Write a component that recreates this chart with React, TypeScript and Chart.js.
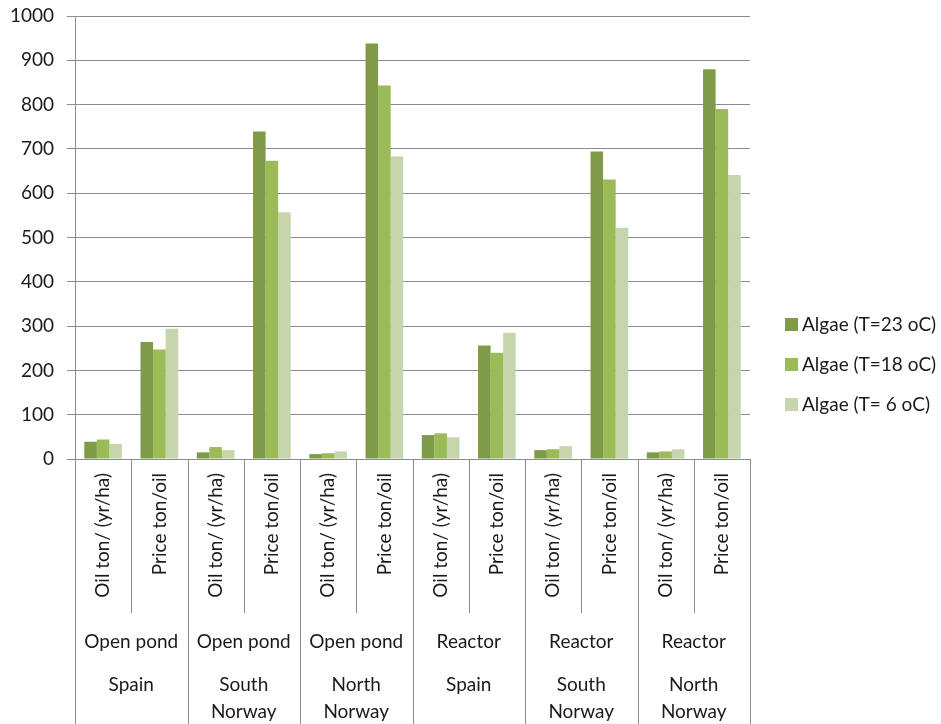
import React, { useEffect, useRef } from "react";
import { Chart, registerables } from "chart.js";

Chart.register(...registerables);

// Category structure: two metrics per cultivation system / region
const metrics = ["Oil ton/ (yr/ha)", "Price ton/oil"];
const systems = ["Open pond", "Open pond", "Open pond", "Reactor", "Reactor", "Reactor"];
const regions = [["Spain"], ["South", "Norway"], ["North", "Norway"], ["Spain"], ["South", "Norway"], ["North", "Norway"]];

const categories = systems.flatMap((s, g) => metrics.map((m) => `${s} ${regions[g].join(" ")} ${m}`));

// Series values per category
const seriesNames = ["Algae (T=23 oC)", "Algae (T=18 oC)", "Algae (T= 6 oC)"];
const algae23 = [39, 264, 15, 739, 11, 938, 54, 256, 20, 694, 15, 880];
const algae18 = [44, 247, 27, 673, 13, 843, 58, 240, 22, 631, 17, 790];
const algae6 = [34, 294, 20, 557, 17, 683, 49, 285, 29, 522, 22, 641];

const yTicks = [0, 100, 200, 300, 400, 500, 600, 700, 800, 900, 1000];

const colors = ["#7F9A48", "#9BBB59", "#C6D6AC"];
const FONT = "Lato, 'Open Sans', sans-serif";
const TEXT = "#1a1a1a";
const LINE = "#8c8c8c";

const groupedAxisPlugin = {
  id: "groupedAxis",
  afterDraw(chart: any) {
    const { ctx, chartArea } = chart;
    const x = chart.scales.x;
    const n = categories.length;
    const w = (chartArea.right - chartArea.left) / n;
    const base = chartArea.bottom;
    const bottom = chart.height;

    ctx.save();
    // separators under the axis
    ctx.strokeStyle = LINE;
    ctx.lineWidth = 1;
    for (let i = 0; i <= n; i++) {
      const px = Math.round(chartArea.left + i * w) + 0.5;
      const end = i % 2 === 1 ? base + 154 : bottom;
      ctx.beginPath();
      ctx.moveTo(px, base);
      ctx.lineTo(px, end);
      ctx.stroke();
    }

    ctx.fillStyle = TEXT;
    ctx.font = `19px ${FONT}`;
    // rotated metric labels
    for (let i = 0; i < n; i++) {
      const cx = x.getPixelForValue(i);
      ctx.save();
      ctx.translate(cx, base + 14);
      ctx.rotate(-Math.PI / 2);
      ctx.textAlign = "right";
      ctx.textBaseline = "middle";
      ctx.fillText(metrics[i % 2], 0, 0);
      ctx.restore();
    }
    // system and region labels
    ctx.textAlign = "center";
    ctx.textBaseline = "middle";
    systems.forEach((s, g) => {
      const cx = chartArea.left + (2 * g + 1) * w;
      ctx.fillText(s, cx, base + 183);
      regions[g].forEach((line, k) => {
        ctx.fillText(line, cx, base + 226 + k * 27);
      });
    });

    // legend
    const lx = 785;
    const ys = [324, 364, 404];
    chart.data.datasets.forEach((ds: any, k: number) => {
      ctx.fillStyle = ds.backgroundColor;
      ctx.fillRect(lx, ys[k] - 6, 13, 13);
      ctx.fillStyle = TEXT;
      ctx.textAlign = "left";
      ctx.fillText(ds.label, lx + 17, ys[k] + 1);
    });
    ctx.restore();
  },
};

export default function App() {
  const ref = useRef<HTMLCanvasElement | null>(null);

  useEffect(() => {
    if (!ref.current) return;
    const chart = new Chart(ref.current, {
      type: "bar",
      data: {
        labels: categories,
        datasets: [algae23, algae18, algae6].map((values, k) => ({
          label: seriesNames[k],
          data: values,
          backgroundColor: colors[k],
          borderWidth: 0,
          categoryPercentage: 0.67,
          barPercentage: 1,
        })),
      },
      options: {
        responsive: false,
        animation: false,
        layout: { padding: { top: 16, right: 191, left: 0, bottom: 0 } },
        plugins: { legend: { display: false }, tooltip: { enabled: false } },
        scales: {
          x: {
            ticks: { display: false },
            grid: { display: false },
            border: { display: true, color: LINE },
            afterFit(scale: any) {
              scale.height = 265;
              scale.paddingLeft = 0;
              scale.paddingRight = 0;
            },
          },
          y: {
            min: 0,
            max: 1000,
            afterBuildTicks(scale: any) {
              scale.ticks = yTicks.map((v) => ({ value: v }));
            },
            afterFit(scale: any) {
              scale.width = 75;
              scale.paddingTop = 0;
              scale.paddingBottom = 0;
            },
            ticks: {
              color: TEXT,
              font: { family: FONT, size: 19 },
              padding: 13,
              callback: (v: any) => String(v),
            },
            grid: { color: LINE, tickLength: 8, lineWidth: 1 },
            border: { display: true, color: LINE },
          },
        },
      },
      plugins: [groupedAxisPlugin],
    });
    return () => chart.destroy();
  }, []);

  return (
    <div style={{ position: "absolute", left: 0, top: 0, width: 941, height: 724, background: "#fff" }}>
      <canvas ref={ref} width={941} height={724} style={{ display: "block" }} />
    </div>
  );
}
